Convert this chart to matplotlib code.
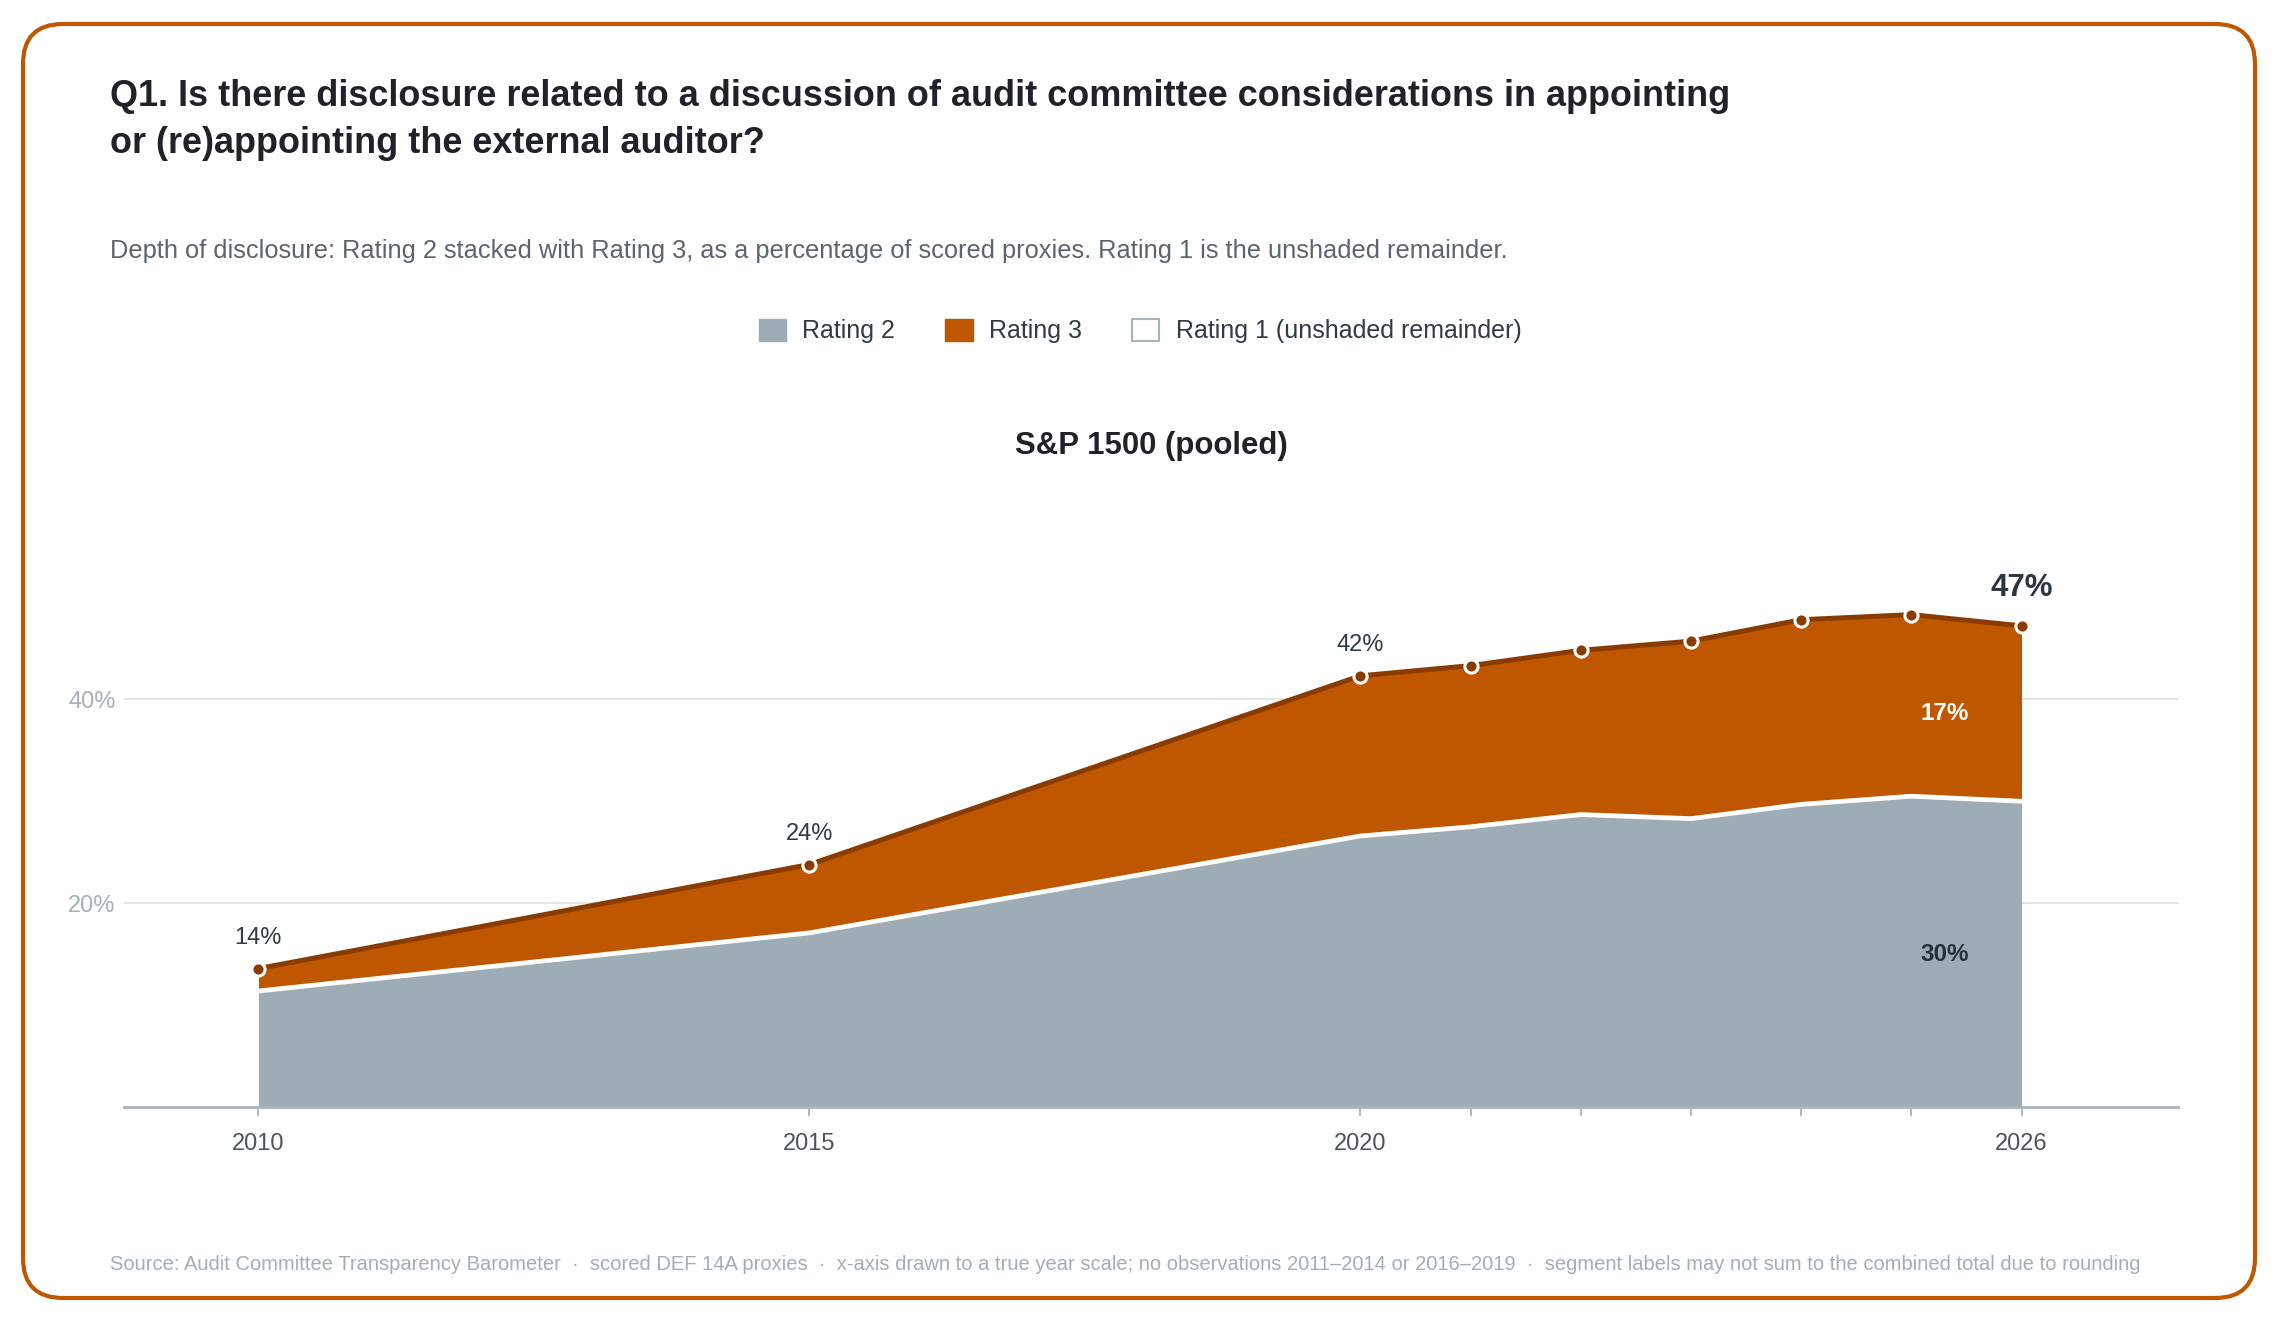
import matplotlib
matplotlib.use("Agg")
import matplotlib.pyplot as plt
from matplotlib.patches import FancyBboxPatch, Patch
import numpy as np

plt.rcParams['font.family'] = ['Liberation Sans', 'DejaVu Sans']

# data (percent of scored proxies)
years = [2010, 2015, 2020, 2021, 2022, 2023, 2024, 2025, 2026]
rating2 = [11.4, 17.1, 26.6, 27.5, 28.7, 28.3, 29.7, 30.5, 30.0]
rating3 = [2.2, 6.7, 15.7, 15.8, 16.1, 17.4, 18.1, 17.8, 17.2]
labelled_years = [2010, 2015, 2020]
tick_label_years = [2010, 2015, 2020, 2026]
y_ticks = [20, 40]

title = ("Q1. Is there disclosure related to a discussion of audit committee considerations in appointing\n"
         "or (re)appointing the external auditor?")
subtitle = ("Depth of disclosure: Rating 2 stacked with Rating 3, as a percentage of scored proxies. "
            "Rating 1 is the unshaded remainder.")
panel_title = "S&P 1500 (pooled)"
footnote = ("Source: Audit Committee Transparency Barometer  \u00b7  scored DEF 14A proxies  \u00b7  "
            "x-axis drawn to a true year scale; no observations 2011\u20132014 or 2016\u20132019  \u00b7  "
            "segment labels may not sum to the combined total due to rounding")

GRAY = '#9DACB5'
ORANGE = '#BF5700'
DARK = '#8A3C00'
INK = '#1F2329'

W, H = 2280, 1320
fig = plt.figure(figsize=(W / 100, H / 100), dpi=100)

# background layer in pixel units for the rounded border
bg = fig.add_axes([0, 0, 1, 1], zorder=0)
bg.set_xlim(0, W)
bg.set_ylim(H, 0)
bg.axis('off')
bg.add_patch(FancyBboxPatch((23, 24), 2232, 1274, boxstyle='round,pad=0,rounding_size=40',
                            facecolor='white', edgecolor=ORANGE, linewidth=3))

# main chart
ax = fig.add_axes([124 / W, 212.7 / H, 2054 / W, 510 / H], zorder=1)
ax.set_facecolor('none')

yrs = np.array(years)
r2 = np.array(rating2)
total = r2 + np.array(rating3)

ax.fill_between(yrs, 0, r2, color=GRAY, lw=0, zorder=2)
ax.fill_between(yrs, r2, total, color=ORANGE, lw=0, zorder=2)
ax.plot(yrs, r2, color='white', lw=3.4, zorder=3)
ax.plot(yrs, total, color=DARK, lw=3.6, zorder=4)
ax.plot(yrs, total, 'o', ms=9.5, mfc=DARK, mec='white', mew=2.2, zorder=5)

for y, t in zip(yrs, total):
    if y in labelled_years:
        ax.annotate(f"{t:.0f}%", (y, t), xytext=(0, 22), textcoords='offset points',
                    ha='center', va='center', fontsize=17, color='#2F3B46')
ax.annotate(f"{total[-1]:.0f}%", (yrs[-1], total[-1]), xytext=(0, 27), textcoords='offset points',
            ha='center', va='center', fontsize=22.5, fontweight='bold', color='#2B3640')

# segment labels at the last year
ax.annotate(f"{rating3[-1]:.0f}%", (yrs[-1], r2[-1] + rating3[-1] / 2), xytext=(-55, 0),
            textcoords='offset points', ha='center', va='center', fontsize=17.5,
            fontweight='bold', color='white', zorder=6)
ax.annotate(f"{r2[-1]:.0f}%", (yrs[-1], r2[-1] / 2), xytext=(-55, 0),
            textcoords='offset points', ha='center', va='center', fontsize=17.5,
            fontweight='bold', color='#2A3038', zorder=6)

ax.set_xlim(2008.78, 2027.42)
ax.set_ylim(0, 50)

ax.set_xticks(years)
ax.set_xticklabels([str(y) if y in tick_label_years else '' for y in years])
ax.tick_params(axis='x', direction='out', length=6.5, width=1.3, color='#A8B4BC',
               labelsize=17, labelcolor='#4A5560', pad=12)
ax.set_yticks(y_ticks)
ax.set_yticklabels([f"{v}%" for v in y_ticks])
ax.tick_params(axis='y', length=0, labelsize=17, labelcolor='#A5B0BA', pad=6)
ax.grid(axis='y', color='#E4E4E0', lw=1.3, zorder=0)
ax.set_axisbelow(True)
for s in ['left', 'right', 'top']:
    ax.spines[s].set_visible(False)
ax.spines['bottom'].set_color('#A8B4BC')
ax.spines['bottom'].set_linewidth(2)
ax.spines['bottom'].set_zorder(6)

# texts
fig.text(110 / W, 1 - 120 / H, title, ha='left', va='center', fontsize=25.9,
         fontweight='bold', color=INK, linespacing=1.46)
fig.text(110 / W, 1 - 250.6 / H, subtitle, ha='left', va='center', fontsize=18.3, color='#5A6570')
fig.text(1151 / W, 1 - 445.7 / H, panel_title, ha='center', va='center', fontsize=22.4,
         fontweight='bold', color=INK)
fig.text(110 / W, 1 - 1264 / H, footnote, ha='left', va='center', fontsize=14.5, color='#A3AEB8')

handles = [Patch(facecolor=GRAY, edgecolor=GRAY, label='Rating 2'),
           Patch(facecolor=ORANGE, edgecolor=ORANGE, label='Rating 3'),
           Patch(facecolor='white', edgecolor='#A8B4BC', linewidth=1.5,
                 label='Rating 1 (unshaded remainder)')]
fig.legend(handles=handles, loc='center', bbox_to_anchor=(0.5, 1 - 331 / H), ncol=3,
           frameon=False, fontsize=18, handlelength=1.1, handleheight=1.0,
           handletextpad=0.65, columnspacing=2.0, labelcolor='#2F3B46')

fig.savefig('out.png', dpi=100)
